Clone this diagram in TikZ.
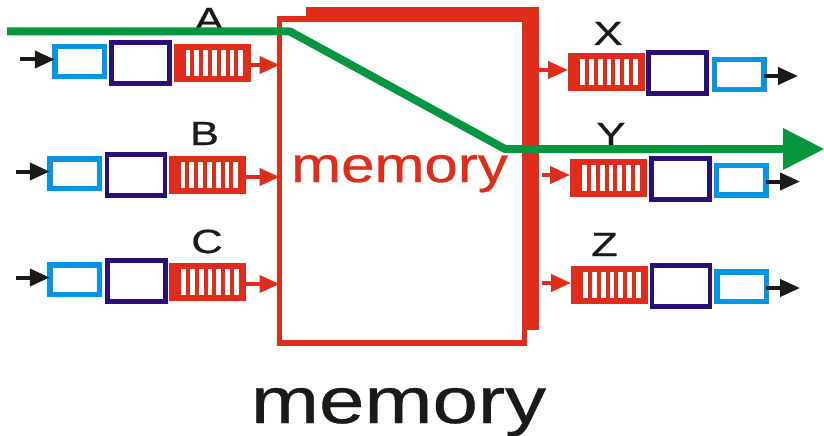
\documentclass[tikz,border=0pt]{standalone}
\usepackage{fontspec}
\setmainfont{Liberation Sans}
\newfontfamily\heavy[FakeBold=0.5]{Liberation Sans}
\usetikzlibrary{arrows.meta}
\definecolor{rd}{HTML}{E02C1A}
\definecolor{lb}{HTML}{0795E3}
\definecolor{db}{HTML}{2A0F78}
\definecolor{gr}{HTML}{069640}
\definecolor{bk}{HTML}{1C1A17}
\tikzset{
  box/.style={rectangle,inner sep=0pt,outer sep=0pt,fill=white},
  line/.style={box,line width=5.5pt,draw=rd},
  lbox/.style={box,draw=lb,line width=5.5pt,minimum width=49.5pt,minimum height=29.5pt},
  dbox/.style={box,draw=db,line width=4.8pt,minimum width=58pt,minimum height=41.5pt},
  qbox/.style={box,fill=rd,minimum width=77pt,minimum height=38pt},
  bar/.style={fill=white,minimum width=4.8pt,minimum height=26pt,inner sep=0pt,outer sep=0pt,rectangle},
  blackarr/.style={draw=bk,line width=4pt,-{Triangle[length=20pt,width=17pt,fill=bk]}},
  redarr/.style={draw=rd,line width=4pt,-{Triangle[length=20pt,width=17pt,fill=rd]}},
  greenline/.style={draw=gr,line width=8pt,line join=round},
  lab/.style={text=bk,anchor=base,inner sep=0pt},
}
\newcommand{\stripes}[1]{%
  \foreach \k in {0,...,6}{\node[bar] at ([xshift=14.5pt+\k*8.8pt]#1.west) {};}}
\newcommand{\lbl}[1]{\scalebox{1.3}[1]{\heavy\fontsize{33.5}{33.5}\selectfont #1}}
\begin{document}
\begin{tikzpicture}[x=1pt,y=-1pt]
\useasboundingbox (0,0) rectangle (824,436);
% memory
\node[box,fill=rd,minimum width=233pt,minimum height=323pt] (back) at (422.5,168.5) {};
\node[line,minimum width=245pt,minimum height=324pt] (front) at (402,181) {};
\node[anchor=base,text=rd,inner sep=0pt] (memred) at (399.5,182) {\scalebox{1.2}[1]{\heavy\fontsize{50}{50}\selectfont memory}};
\node[anchor=base,text=bk,inner sep=0pt] (membk) at (398.5,423) {\scalebox{1.257}[1]{\heavy\fontsize{65}{65}\selectfont memory}};
% left ports
\foreach \n/\lx/\ly/\dx/\dy/\qx/\qy/\sx/\ay in {
  a/79.5/61.5/140.5/63/212/63/20/65,
  b/74.5/173.5/136/175/207/175/16/177,
  c/74.5/279.5/136.5/281/207.5/282/16/284}{
  \node[lbox] (l\n) at (\lx,\ly) {};
  \node[dbox] (d\n) at (\dx,\dy) {};
  \node[qbox] (q\n) at (\qx,\qy) {};
  \stripes{q\n}
  \coordinate (s\n) at (\sx,\ly-2);
  \draw[blackarr] (s\n) -- (l\n.west |- s\n);
  \coordinate (t\n) at (front.west |- 0,\ay);
  \draw[redarr] (q\n.east |- t\n) -- (t\n);
}
% right ports
\foreach \n/\qx/\qy/\dx/\dy/\lx/\ly/\ex/\ay/\gap in {
  x/606.5/72/677.5/73/739/74.5/798/70/0,
  y/608.5/177.5/680.5/179/741/180/800/175/3,
  z/609.5/284.5/681/286/741.5/286.5/800/283/3}{
  \node[qbox] (q\n) at (\qx,\qy) {};
  \stripes{q\n}
  \node[dbox] (d\n) at (\dx,\dy) {};
  \node[lbox] (l\n) at (\lx,\ly) {};
  \coordinate (e\n) at (\ex,\ly+1.5);
  \draw[blackarr] (l\n.east |- e\n) -- (e\n);
  \coordinate (t\n) at (q\n.west |- 0,\ay);
  \draw[redarr,shorten <=\gap pt] (back.east |- t\n) -- (t\n);
}
% labels
\node[lab] (A) at (209,31) {\lbl{A}};
\node[lab] (B) at (204.5,145) {\lbl{B}};
\node[lab] (C) at (207,253) {\lbl{C}};
\node[lab] (X) at (608,45) {\lbl{X}};
\node[lab] (Y) at (611,146) {\lbl{Y}};
\node[lab] (Z) at (604.5,256) {\lbl{Z}};
% green route
\coordinate (g0) at (7,31.5);
\coordinate (g1) at (290,31.5);
\coordinate (g2) at (505,149);
\coordinate (g3) at (790,149);
\draw[greenline] (g0) -- (g1) -- (g2) -- (g3);
\coordinate (g4) at (824,149);
\fill[gr] (783,128) -- (g4) -- (783,170) -- cycle;
\end{tikzpicture}
\end{document}
